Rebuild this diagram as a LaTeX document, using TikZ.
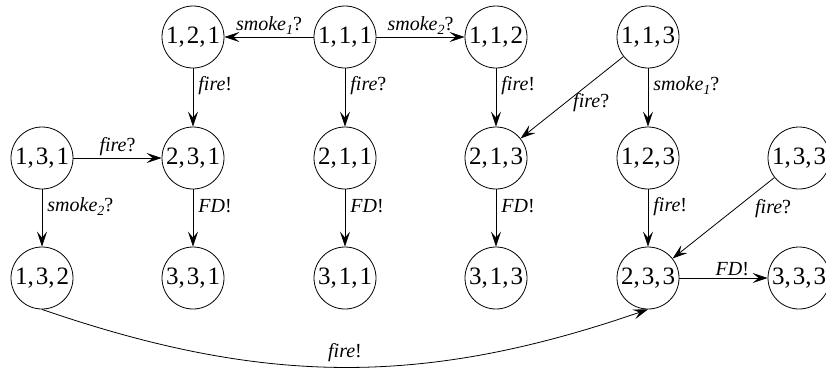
\documentclass[tikz,border=0pt]{standalone}
\usepackage{fontspec}
\setmainfont{Liberation Serif}
\newfontfamily\tms{Liberation Serif}
\usetikzlibrary{arrows.meta}
\newcommand\smk[1]{\textit{smoke}\raisebox{-0.4ex}{\fontsize{14}{14}\selectfont\itshape #1}?}
\newcommand\trip[3]{#1,\kern2pt#2,\kern2pt#3}
\begin{document}
\begin{tikzpicture}[x=1pt,y=-1pt,
  state/.style={draw, circle, minimum size=62pt, inner sep=0pt, line width=0.8pt,
    font=\tms\fontsize{25}{25}\selectfont},
  tr/.style={draw, line width=0.8pt, -{Stealth[length=15pt,width=10pt,inset=6pt]}},
  lbl/.style={font=\tms\fontsize{20}{20}\selectfont, inner sep=2pt},
  vlbl/.style={lbl, pos=0.3, anchor=west, xshift=3pt}]
\clip (0,0) rectangle (826,370);
% row 1
\node[state] (121) at (193,37) {\trip121};
\node[state] (111) at (345,37) {\trip111};
\node[state] (112) at (496,37) {\trip112};
\node[state] (113) at (648,37) {\trip113};
% row 2
\node[state] (131) at (42,158) {\trip131};
\node[state] (231) at (193,158) {\trip231};
\node[state] (211) at (345,158) {\trip211};
\node[state] (213) at (496,158) {\trip213};
\node[state] (123) at (648,158) {\trip123};
\node[state] (133) at (799,158) {\trip133};
% row 3
\node[state] (132) at (42,278) {\trip132};
\node[state] (331) at (193,278) {\trip331};
\node[state] (311) at (345,278) {\trip311};
\node[state] (313) at (496,278) {\trip313};
\node[state] (233) at (648,278) {\trip233};
\node[state] (333) at (799,278) {\trip333};
% edges
\draw[tr] (111) -- node[lbl, above] {\smk{1}} (121);
\draw[tr] (111) -- node[lbl, above] {\smk{2}} (112);
\draw[tr] (121) -- node[vlbl] {\textit{fire}!} (231);
\draw[tr] (111) -- node[vlbl] {\textit{fire}?} (211);
\draw[tr] (112) -- node[vlbl] {\textit{fire}!} (213);
\draw[tr] (113) -- node[lbl, pos=0.56, anchor=west, xshift=5pt] {\textit{fire}?} (213);
\draw[tr] (113) -- node[vlbl] {\smk{1}} (123);
\draw[tr] (131) -- node[lbl, above] {\textit{fire}?} (231);
\draw[tr] (131) -- node[vlbl] {\smk{2}} (132);
\draw[tr] (231) -- node[vlbl] {\textit{FD}!} (331);
\draw[tr] (211) -- node[vlbl] {\textit{FD}!} (311);
\draw[tr] (213) -- node[vlbl] {\textit{FD}!} (313);
\draw[tr] (123) -- node[vlbl] {\textit{fire}!} (233);
\draw[tr] (133) -- node[lbl, pos=0.38, anchor=west, xshift=17pt] {\textit{fire}?} (233);
\draw[tr] (233) -- node[lbl, above, pos=0.6] {\textit{FD}!} (333);
\draw[tr] (132.south) to[out=-19, in=199]
  node[lbl, above, pos=0.5, yshift=3pt] {\textit{fire}!} (233.south);
\end{tikzpicture}
\end{document}
